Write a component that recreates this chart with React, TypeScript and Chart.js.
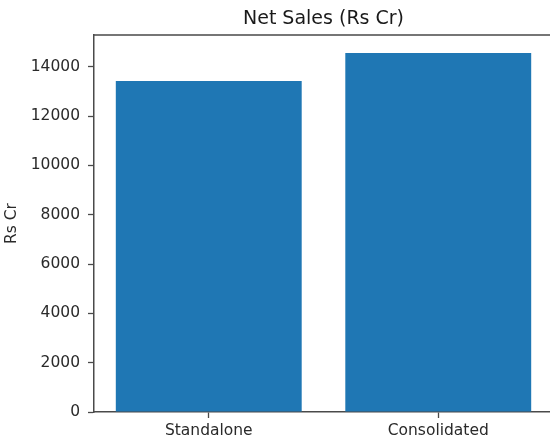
import React, { useEffect, useRef } from "react";
import { Chart, registerables } from "chart.js";

Chart.register(...registerables);

const categories = ["Standalone", "Consolidated"];
const netSales = [13420, 14560];
const yTicks = [0, 2000, 4000, 6000, 8000, 10000, 12000, 14000];
const chartTitle = "Net Sales (Rs Cr)";
const yAxisTitle = "Rs Cr";

const FONT = "'DejaVu Sans', sans-serif";
const SPINE = "#4a4a4a";
const TEXT = "#2a2a2a";

const boxPlugin = {
  id: "boxSpines",
  afterDraw(chart: any) {
    const { ctx, chartArea } = chart;
    ctx.save();
    ctx.strokeStyle = SPINE;
    ctx.lineWidth = 1.5;
    ctx.beginPath();
    ctx.moveTo(chartArea.left, chartArea.top);
    ctx.lineTo(chartArea.right, chartArea.top);
    ctx.lineTo(chartArea.right, chartArea.bottom);
    ctx.stroke();
    ctx.restore();
  },
};

export default function App() {
  const ref = useRef<HTMLCanvasElement>(null);
  useEffect(() => {
    const maxVal = Math.max(...netSales) * 1.05;
    const chart = new Chart(ref.current!, {
      type: "bar",
      data: {
        labels: categories,
        datasets: [
          {
            data: netSales,
            backgroundColor: "#1f77b4",
            barPercentage: 0.81,
            categoryPercentage: 1.0,
          },
        ],
      },
      plugins: [boxPlugin],
      options: {
        animation: false,
        responsive: false,
        maintainAspectRatio: false,
        layout: { padding: { left: 0, right: 17, top: 0, bottom: 0 } },
        plugins: {
          legend: { display: false },
          tooltip: { enabled: false },
          title: {
            display: true,
            fullSize: false,
            text: chartTitle,
            color: "#1a1a1a",
            font: { family: FONT, size: 19, weight: "normal" as any, lineHeight: 1.2 },
            padding: { top: 8, bottom: 4.2 },
          },
        },
        scales: {
          x: {
            offset: true,
            grid: {
              display: true,
              offset: false,
              drawOnChartArea: false,
              drawTicks: true,
              tickLength: 6,
              tickColor: SPINE,
              tickWidth: 1.3,
            },
            border: { display: true, color: SPINE, width: 1.5 },
            ticks: {
              color: TEXT,
              font: { family: FONT, size: 15.5 },
              padding: 4,
              maxRotation: 0,
            },
            afterFit(scale: any) {
              scale.height = 29;
            },
          },
          y: {
            min: 0,
            max: maxVal,
            grid: {
              display: true,
              drawOnChartArea: false,
              drawTicks: true,
              tickLength: 6,
              tickColor: SPINE,
              tickWidth: 1.3,
            },
            border: { display: true, color: SPINE, width: 1.5 },
            ticks: {
              color: TEXT,
              font: { family: FONT, size: 15.5 },
              padding: 8,
              callback: (v: any) => String(v),
            },
            afterBuildTicks(scale: any) {
              scale.ticks = yTicks.map((v) => ({ value: v }));
            },
            title: {
              display: true,
              text: yAxisTitle,
              color: TEXT,
              font: { family: FONT, size: 15.5, lineHeight: 1.2 },
              padding: { top: 3, bottom: 0 },
            },
            afterFit(scale: any) {
              scale.width = 94;
            },
          },
        },
      },
    });
    return () => chart.destroy();
  }, []);
  return (
    <div
      style={{
        position: "fixed",
        left: 0,
        top: 0,
        width: 550,
        height: 441,
        overflow: "hidden",
        background: "#fff",
      }}
    >
      <canvas ref={ref} width={570} height={441} style={{ width: 570, height: 441, display: "block" }} />
    </div>
  );
}
